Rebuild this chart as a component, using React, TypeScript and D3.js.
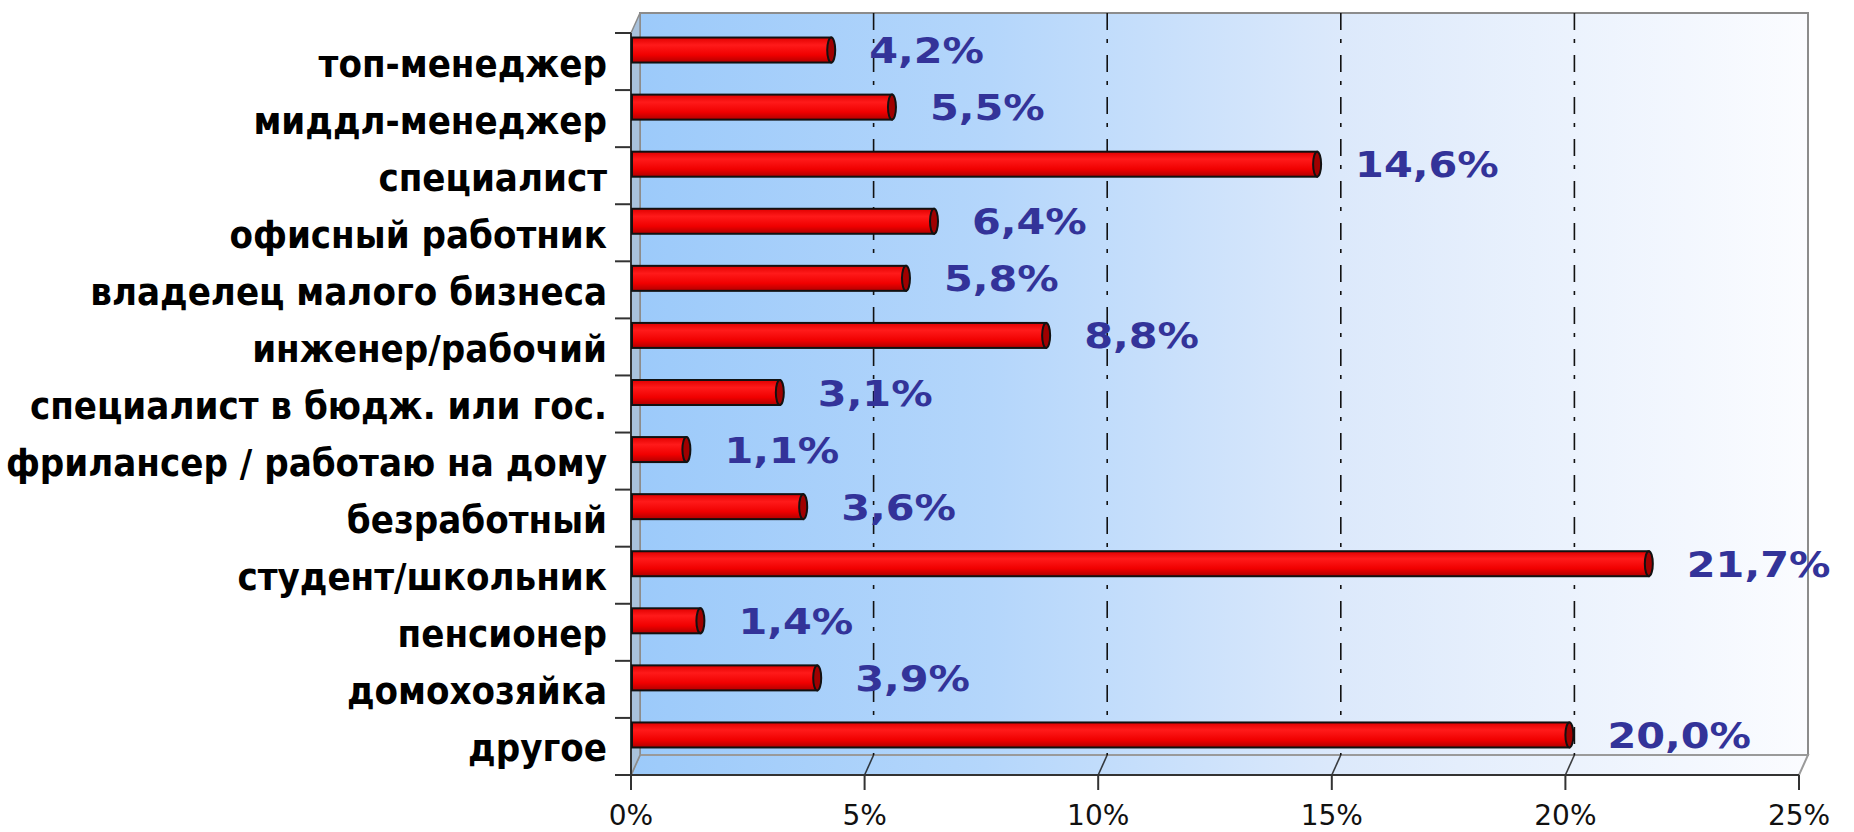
import React from "react";
import * as d3 from "d3";

const categories = [
  "топ-менеджер",
  "миддл-менеджер",
  "специалист",
  "офисный работник",
  "владелец малого бизнеса",
  "инженер/рабочий",
  "специалист в бюдж. или гос.",
  "фрилансер / работаю на дому",
  "безработный",
  "студент/школьник",
  "пенсионер",
  "домохозяйка",
  "другое",
];
const values = [4.2, 5.5, 14.6, 6.4, 5.8, 8.8, 3.1, 1.1, 3.6, 21.7, 1.4, 3.9, 20.0];
const xTicks = [0, 5, 10, 15, 20, 25];

const width = 1854;
const height = 832;
// front plane of the 3d box, back wall is shifted by depth
const left = 631;
const right = 1799;
const top = 33;
const bottom = 775;
const dx = 9;
const dy = -20;

export default function App() {
  const x = d3.scaleLinear([0, 25], [left, right]);
  const y = d3.scaleBand(categories, [top, bottom]);
  const bw = y.bandwidth();
  const barH = 25;
  const barShift = -11.5; // bars sit half way into the box
  const fmt = (v: number) => v.toFixed(1).replace(".", ",") + "%";

  const wallL = left + dx;
  const wallR = right + dx;
  const wallT = top + dy;
  const wallB = bottom + dy;

  return (
    <svg width={width} height={height} style={{ position: "absolute", left: 0, top: 0 }}>
      <defs>
        <linearGradient id="wall" x1="0" x2="1" y1="0" y2="0">
          <stop offset="0" stopColor="#9ccafa" />
          <stop offset="0.3" stopColor="#b4d6fb" />
          <stop offset="0.6" stopColor="#dce9fb" />
          <stop offset="1" stopColor="#fbfcff" />
        </linearGradient>
        <linearGradient id="bar" x1="0" x2="0" y1="0" y2="1">
          <stop offset="0" stopColor="#e00000" />
          <stop offset="0.3" stopColor="#ff1a1a" />
          <stop offset="0.7" stopColor="#f00000" />
          <stop offset="1" stopColor="#b00000" />
        </linearGradient>
      </defs>
      <rect width={width} height={height} fill="#fff" />

      {/* back wall */}
      <rect x={wallL} y={wallT} width={wallR - wallL} height={wallB - wallT}
        fill="url(#wall)" stroke="#8c8c8c" strokeWidth={2} />
      {/* floor */}
      <polygon
        points={`${left},${bottom} ${wallL},${wallB} ${wallR},${wallB} ${right},${bottom}`}
        fill="url(#wall)" stroke="#9a9a9a" strokeWidth={2} />
      {/* left side */}
      <polygon
        points={`${left},${top} ${wallL},${wallT} ${wallL},${wallB} ${left},${bottom}`}
        fill="#a9c2dc" stroke="#8c8c8c" strokeWidth={1.5} />

      {/* grid lines */}
      {xTicks.slice(1, -1).map((t) => (
        <g key={t} stroke="#111" strokeWidth={1.6} strokeDasharray="17,9,4,12">
          <line x1={x(t) + dx} x2={x(t) + dx} y1={wallT} y2={wallB} />
          <line x1={x(t)} x2={x(t) + dx} y1={bottom} y2={wallB} strokeDasharray="none" opacity={0.8} />
        </g>
      ))}

      {/* axes */}
      <line x1={left} x2={left} y1={top} y2={bottom + 15} stroke="#333" strokeWidth={2} />
      <line x1={left - 16} x2={right} y1={bottom} y2={bottom} stroke="#333" strokeWidth={2} />
      {d3.range(categories.length + 1).map((i) => (
        <line key={i} x1={left - 16} x2={left} y1={top + i * bw} y2={top + i * bw}
          stroke="#333" strokeWidth={2} />
      ))}
      {xTicks.map((t) => (
        <g key={t}>
          <line x1={x(t)} x2={x(t)} y1={bottom} y2={bottom + 15} stroke="#333" strokeWidth={2} />
          <text x={x(t)} y={825} textAnchor="middle" fontFamily="DejaVu Sans" fontSize={28} fill="#111">
            {t}%
          </text>
        </g>
      ))}

      {/* bars */}
      {categories.map((c, i) => {
        const cy = (y(c) as number) + bw / 2 + barShift;
        const x0 = left + 1;
        const x1 = x(values[i]) + 4;
        return (
          <g key={c}>
            <rect x={x0} y={cy - barH / 2} width={x1 - x0} height={barH}
              fill="url(#bar)" stroke="#111" strokeWidth={2} />
            <ellipse cx={x1} cy={cy} rx={4} ry={barH / 2}
              fill="#a00000" stroke="#111" strokeWidth={2} />
            <text transform={`translate(${x1 + 38},${cy + 13}) scale(1.15,1)`}
              fontFamily="DejaVu Sans" fontWeight="bold" fontSize={36} fill="#333399">
              {fmt(values[i])}
            </text>
          </g>
        );
      })}

      {/* category labels */}
      {categories.map((c) => (
        <text key={c} x={607} y={(y(c) as number) + bw / 2 + 15} textAnchor="end"
          fontFamily="'DejaVu Sans Condensed', 'DejaVu Sans'" fontStretch="condensed"
          fontWeight="bold" fontSize={38} fill="#000">
          {c}
        </text>
      ))}
    </svg>
  );
}
